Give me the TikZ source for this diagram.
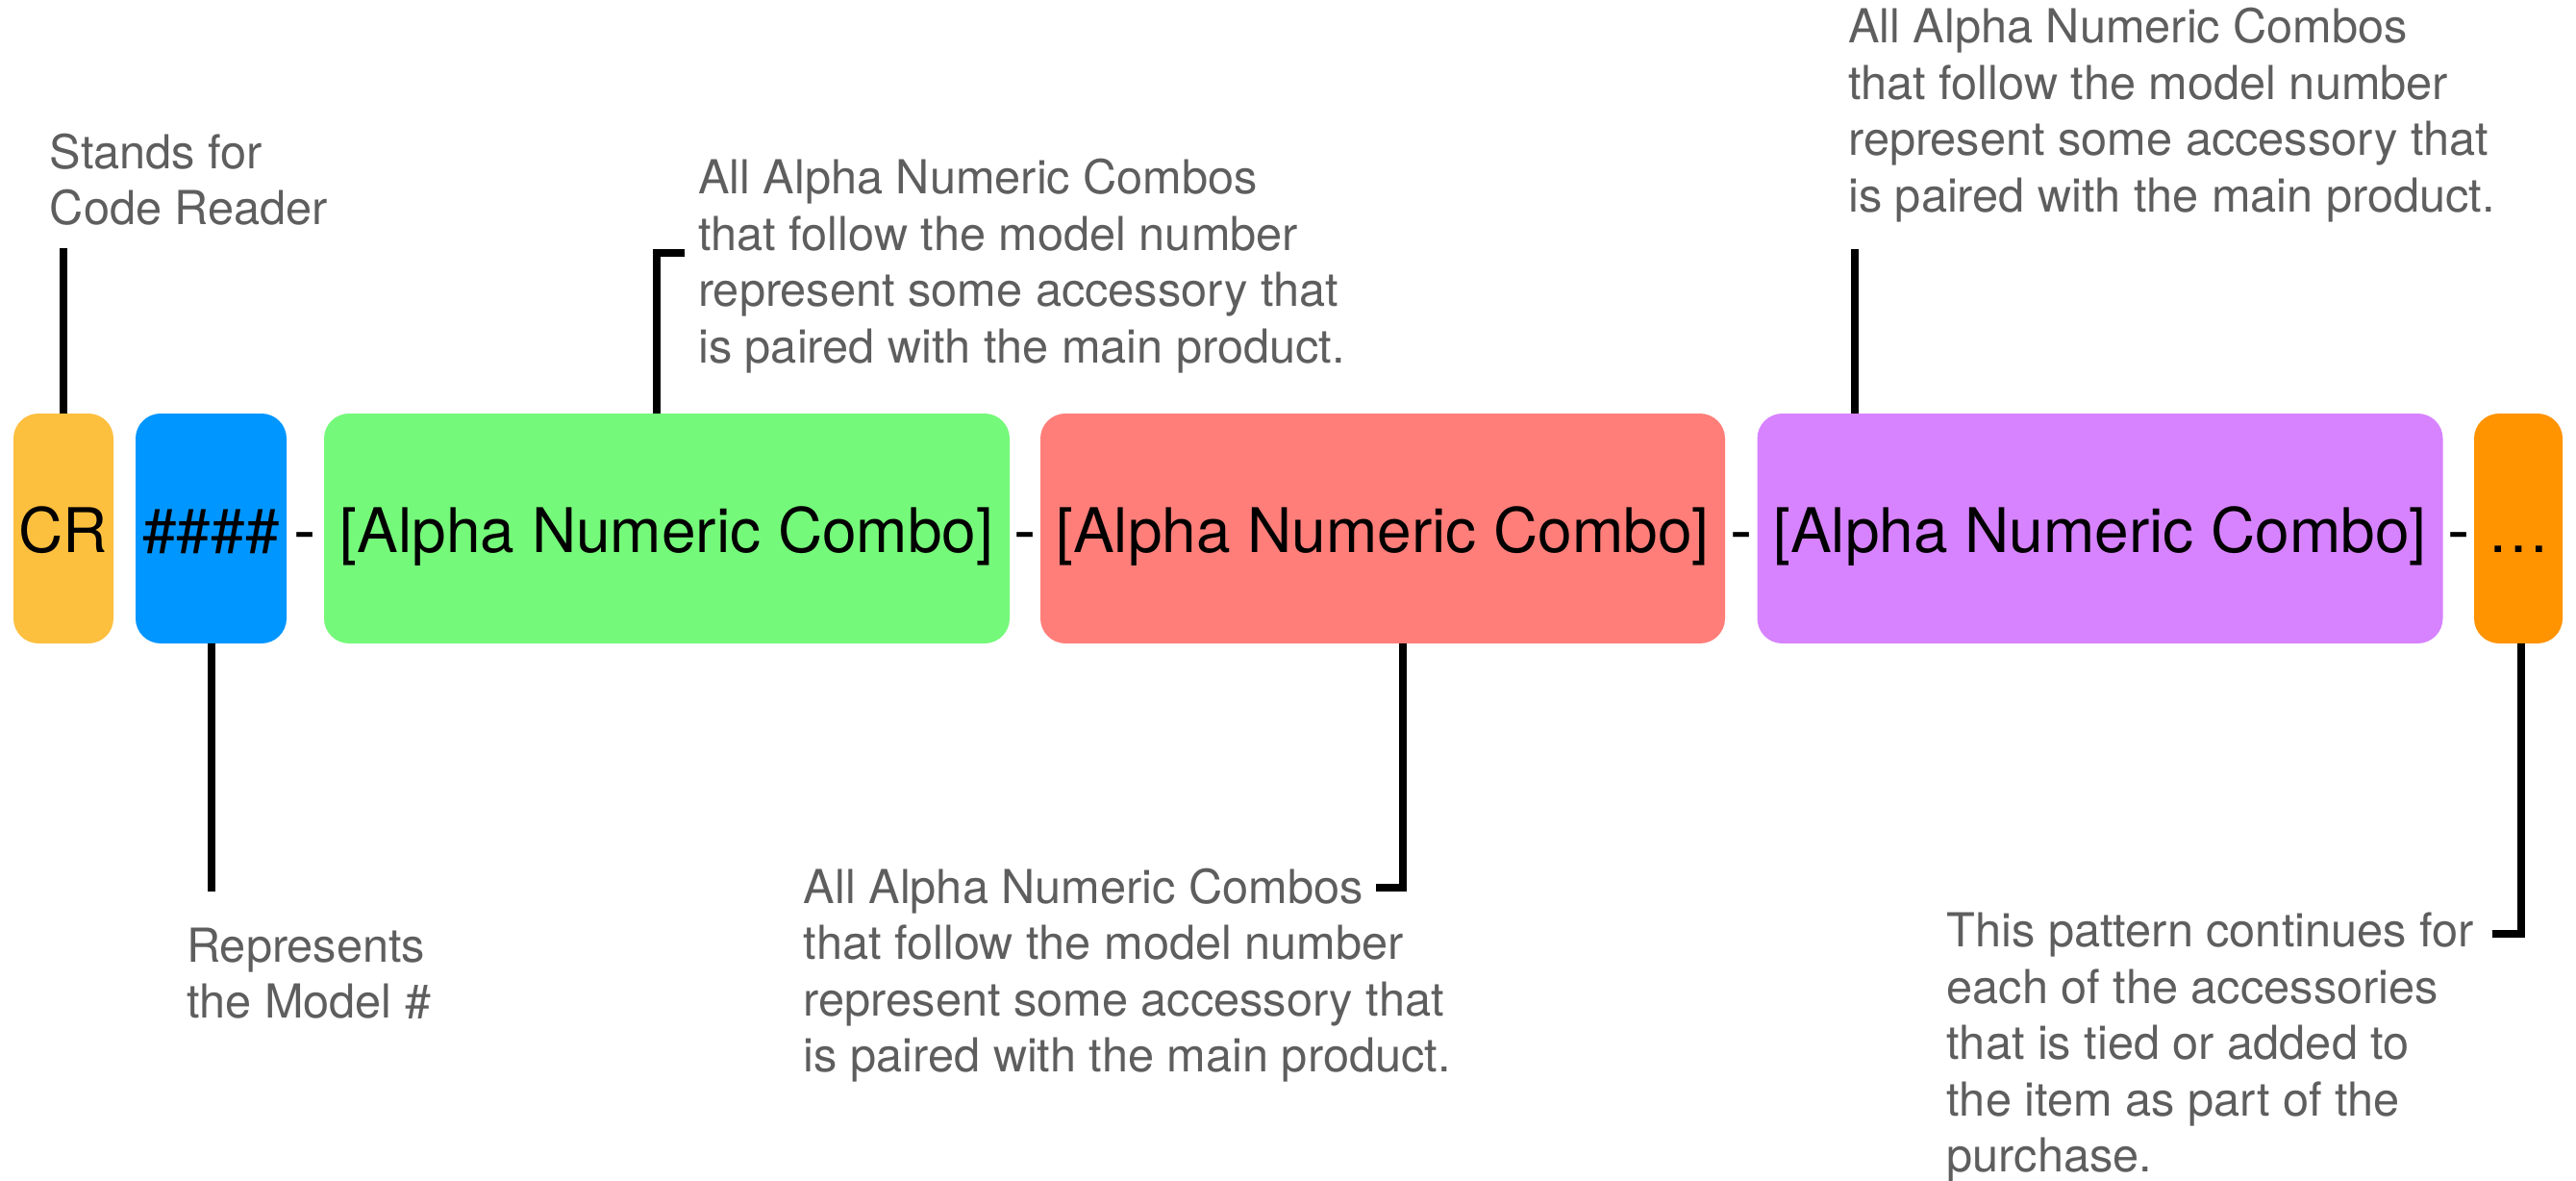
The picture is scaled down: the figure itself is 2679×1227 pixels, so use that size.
\documentclass[tikz,border=0pt]{standalone}
\usepackage{fontspec}
\setmainfont{TeX Gyre Heros}
\definecolor{crc}{HTML}{FDBF3E}
\definecolor{hashc}{HTML}{0096FF}
\definecolor{greenc}{HTML}{75F97A}
\definecolor{redc}{HTML}{FF7E79}
\definecolor{purplec}{HTML}{D783FF}
\definecolor{orangec}{HTML}{FF9300}
\definecolor{notegray}{HTML}{5E5E5E}
\tikzset{
  codebox/.style={rounded corners=26pt, inner sep=0pt, minimum height=239pt,
    text height=49pt, text depth=0pt, font=\fontsize{64}{64}\selectfont, text=black},
  note/.style={anchor=north west, inner sep=0pt, align=left, text=notegray,
    font=\fontsize{48.7}{58.5}\selectfont},
  hyph/.style={anchor=base, inner sep=0pt, font=\fontsize{70}{70}\selectfont, text=black},
  conn/.style={line width=8pt, line join=miter, line cap=butt, draw=black}
}
\begin{document}
\begin{tikzpicture}[x=1pt,y=-1pt]
\useasboundingbox[fill=white] (0,0) rectangle (2679,1227);

% boxes
\node[codebox, fill=crc, minimum width=104pt] (cr) at (66,549.5) {CR};
\node[codebox, fill=hashc, minimum width=157pt] (hash) at (219.5,549.5) {\#\#\#\#};
\node[codebox, fill=greenc, minimum width=713pt] (green) at (693.5,549.5) {[Alpha Numeric Combo]};
\node[codebox, fill=redc, minimum width=712pt] (red) at (1438,549.5) {[Alpha Numeric Combo]};
\node[codebox, fill=purplec, minimum width=713pt] (purple) at (2184,549.5) {[Alpha Numeric Combo]};
\node[codebox, fill=orangec, minimum width=92pt] (orange) at (2619,549.5) {…};

% hyphens
\node[hyph] (h1) at (317,575) {-};
\node[hyph] (h2) at (1066,575) {-};
\node[hyph] (h3) at (1811,575) {-};
\node[hyph] (h4) at (2557,575) {-};

% notes
\node[note] (ncr) at (51.7,135) {\rule{0pt}{40pt}Stands for\\Code Reader};
\node[note] (nhash) at (194,960) {\rule{0pt}{40pt}Represents\\the Model \#};
\node[note] (ngreen) at (726,161.7) {\rule{0pt}{40pt}All Alpha Numeric Combos\\that follow the model number\\represent some accessory that\\is paired with the main product.};
\node[note] (nred) at (835.7,899) {\rule{0pt}{40pt}All Alpha Numeric Combos\\that follow the model number\\represent some accessory that\\is paired with the main product.};
\node[note] (npurple) at (1922,4.6) {\rule{0pt}{40pt}All Alpha Numeric Combos\\that follow the model number\\represent some accessory that\\is paired with the main product.};
\node[note] (norange) at (2024.4,944.6) {\rule{0pt}{40pt}This pattern continues for\\each of the accessories\\that is tied or added to\\the item as part of the\\purchase.};

% connector end points
\coordinate (crEnd) at (66,258);
\coordinate (hashEnd) at (220,927);
\coordinate (gCorner) at (683,262.5);
\coordinate (gEnd) at (712,262.5);
\coordinate (rCorner) at (1459,923);
\coordinate (rEnd) at (1431,923);
\coordinate (pEnd) at (1929,259);
\coordinate (oCorner) at (2622,971);
\coordinate (oEnd) at (2592,971);

% connectors
\draw[conn] (cr.north) -- (crEnd);
\draw[conn] (hashEnd |- hash.south) -- (hashEnd);
\draw[conn] (gCorner |- green.north) -- (gCorner) -- (gEnd);
\draw[conn] (rCorner |- red.south) -- (rCorner) -- (rEnd);
\draw[conn] (pEnd |- purple.north) -- (pEnd);
\draw[conn] (oCorner |- orange.south) -- (oCorner) -- (oEnd);
\end{tikzpicture}
\end{document}
